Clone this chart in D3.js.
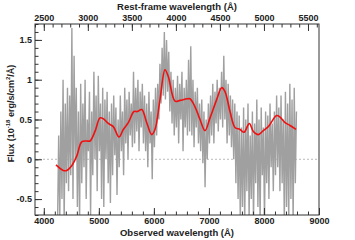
<!DOCTYPE html>
<html>
<head>
<meta charset="utf-8">
<script src="https://cdn.jsdelivr.net/npm/d3@7"></script>
<style>
  body { margin: 0; background: #fff; }
  svg { display: block; }
  text { font-family: "Liberation Sans", Arial, sans-serif; font-weight: bold; fill: #222; }
</style>
</head>
<body>
<div id="chart"></div>
<script>
// axis ticks
const obsTicks = [4000, 5000, 6000, 7000, 8000, 9000];
const obsMinor = [4000, 4200, 4400, 4600, 4800, 5000, 5200, 5400, 5600, 5800, 6000, 6200, 6400, 6600, 6800, 7000, 7200, 7400, 7600, 7800, 8000, 8200, 8400, 8600, 8800, 9000];
const restTicks = [2500, 3000, 3500, 4000, 4500, 5000, 5500];
const fluxTicks = [-0.5, 0, 0.5, 1, 1.5];
const fluxTickLabels = ["-0.5", "0", "0.5", "1", "1.5"];
const redshift = 0.6;

// observed spectrum, sampled every 20 Å from 4250 Å
const specStart = 4250, specStep = 20;
const specFlux = [
  -0.8, 0.3, -0.75, 0.6, -0.5, 1.0, -0.8, 0.7, -0.3, 0.9,
  -0.4, 0.8, -0.2, 1.65, -0.5, 1.3, 0.0, 0.9, -0.6, 0.6,
  -0.8, 0.95, -0.3, 0.7, -0.1, 1.0, -0.5, 0.5, 0.1, 0.85,
  -0.7, 0.6, -0.2, 1.1, 0.0, 0.8, -0.4, 1.05, 0.1, 0.7,
  -0.5, 0.9, -0.6, 0.75, 0.0, 0.85, -0.3, 0.6, -0.55, 0.7,
  -0.2, 0.8, 0.05, 0.65, -0.45, 0.5, -0.1, 0.8, 0.1, 0.6,
  -0.2, 0.9, 0.2, 0.75, 0.0, 0.85, 0.3, 0.7, 0.15, 1.1,
  0.2, 0.9, 0.35, 1.0, 0.1, 0.85, 0.4, 0.95, 0.2, 0.8,
  0.1, 0.7, -0.1, 0.85, 0.2, 0.6, -0.25, 0.75, 0.15, 0.9,
  0.3, 0.95, 0.5, 1.2, 0.7, 1.4, 0.8, 1.6, 0.75, 1.5,
  0.85, 1.35, 0.6, 1.1, 0.45, 1.0, 0.3, 0.9, 0.4, 1.05,
  0.2, 0.95, 0.5, 1.1, 0.1, 0.9, 0.4, 1.0, 0.3, 1.25,
  0.35, 1.42, 0.3, 1.0, 0.15, 0.85, 0.4, 0.9, 0.2, 0.7,
  0.1, 0.75, -0.05, 0.6, -0.35, 0.5, 0.0, 0.7, 0.2, 0.8,
  0.3, 0.95, 0.2, 0.85, 0.45, 1.0, 0.35, 0.9, 0.5, 1.1,
  0.4, 1.3, 0.5, 1.0, 0.2, 0.95, 0.3, 0.8, 0.15, 0.75,
  0.0, 0.7, -0.3, 0.6, -0.5, 0.55, -0.8, 0.4, -0.6, 0.65,
  -0.8, 0.5, -0.4, 0.7, -0.75, 0.3, -0.5, 0.6, -0.8, 0.45,
  -0.3, 0.75, -0.6, 0.5, -0.8, 0.65, -0.2, 0.4, -0.8, 0.6,
  -0.3, 0.55, -0.5, 0.7, -0.1, 0.45, -0.4, 0.6, -0.2, 0.8,
  -0.1, 0.65, -0.4, 0.8, -0.3, 0.5, -0.8, 0.85, -0.6, 0.7,
  -0.8, 0.95, -0.5, 0.75, -0.8, 0.9, -0.3, 0.6
];

// smoothed model
const modelWave = [4222, 4354, 4416, 4507, 4598, 4689, 4780, 4840, 4930, 5021, 5081, 5172, 5263, 5366, 5444, 5535, 5639, 5699, 5779, 5870, 5960, 6020, 6111, 6202, 6262, 6384, 6475, 6607, 6656, 6747, 6838, 6929, 7020, 7141, 7232, 7292, 7383, 7474, 7565, 7638, 7734, 7807, 7897, 7988, 8079, 8231, 8292, 8383, 8473, 8582];
const modelFlux = [-0.07, -0.14, -0.14, -0.08, 0.04, 0.22, 0.23, 0.23, 0.35, 0.52, 0.51, 0.45, 0.41, 0.28, 0.375, 0.46, 0.60, 0.60, 0.625, 0.46, 0.31, 0.375, 0.75, 1.125, 1.04, 0.73, 0.74, 0.76, 0.76, 0.66, 0.5, 0.36, 0.52, 0.75, 0.90, 0.85, 0.60, 0.40, 0.375, 0.34, 0.45, 0.35, 0.31, 0.36, 0.41, 0.55, 0.53, 0.46, 0.425, 0.375];

const width = 355, height = 240;
const margin = { top: 24, right: 36, bottom: 25, left: 35 };
const innerW = width - margin.left - margin.right;
const innerH = height - margin.top - margin.bottom;

const svg = d3.select("#chart").append("svg")
  .attr("width", width).attr("height", height);
const g = svg.append("g")
  .attr("transform", `translate(${margin.left},${margin.top})`);

const x = d3.scaleLinear().domain([3840, 9000]).range([0, innerW]);
const xRest = d3.scaleLinear().domain([3840 / (1 + redshift), 9000 / (1 + redshift)]).range([0, innerW]);
const y = d3.scaleLinear().domain([-0.7, 1.7]).range([innerH, 0]);

g.append("clipPath").attr("id", "plot-clip")
  .append("rect").attr("width", innerW).attr("height", innerH);

// zero line
g.append("line")
  .attr("x1", 0).attr("x2", innerW)
  .attr("y1", y(0)).attr("y2", y(0))
  .attr("stroke", "#aaa").attr("stroke-width", 0.8)
  .attr("stroke-dasharray", "2,2");

const spec = specFlux.map((f, i) => ({ w: specStart + i * specStep, f }));
g.append("path")
  .datum(spec)
  .attr("clip-path", "url(#plot-clip)")
  .attr("fill", "none")
  .attr("stroke", "#a0a0a0")
  .attr("stroke-width", 1.4)
  .attr("stroke-linejoin", "bevel")
  .attr("d", d3.line().x(d => x(d.w)).y(d => y(d.f)));

const model = modelWave.map((w, i) => ({ w, f: modelFlux[i] }));
g.append("path")
  .datum(model)
  .attr("fill", "none")
  .attr("stroke", "#f01010")
  .attr("stroke-width", 1.6)
  .attr("d", d3.line().x(d => x(d.w)).y(d => y(d.f)).curve(d3.curveCatmullRom));

// axes, ticks pointing inside
function style(sel) {
  sel.select(".domain").remove();
  sel.selectAll("line").attr("stroke", "#333");
  sel.selectAll("text").attr("font-size", 9).style("fill", "#222");
}

g.append("g").attr("transform", `translate(0,${innerH})`)
  .call(d3.axisBottom(x).tickValues(obsMinor).tickSize(-3.5).tickFormat(""))
  .call(style);
g.append("g").attr("transform", `translate(0,${innerH})`)
  .call(d3.axisBottom(x).tickValues(obsTicks).tickSize(-7).tickPadding(3).tickFormat(d3.format("d")))
  .call(style);

const restMinor = d3.range(2400, 5700, 100);
g.append("g")
  .call(d3.axisTop(xRest).tickValues(restMinor).tickSize(-3.5).tickFormat(""))
  .call(style);
g.append("g")
  .call(d3.axisTop(xRest).tickValues(restTicks).tickSize(-7).tickPadding(3).tickFormat(d3.format("d")))
  .call(style);

const fluxMinor = d3.range(-7, 18).map(v => v / 10);
g.append("g")
  .call(d3.axisLeft(y).tickValues(fluxMinor).tickSize(-3.5).tickFormat(""))
  .call(style);
g.append("g")
  .call(d3.axisLeft(y).tickValues(fluxTicks).tickSize(-7).tickPadding(3)
    .tickFormat((d, i) => fluxTickLabels[i]))
  .call(style);

// frame
g.append("rect")
  .attr("width", innerW).attr("height", innerH)
  .attr("fill", "none").attr("stroke", "#333").attr("stroke-width", 1);

// titles
svg.append("text")
  .attr("x", margin.left + innerW / 2).attr("y", 236)
  .attr("text-anchor", "middle").attr("font-size", 9.5)
  .text("Observed wavelength (Å)");
svg.append("text")
  .attr("x", margin.left + innerW / 2).attr("y", 9.5)
  .attr("text-anchor", "middle").attr("font-size", 9.5)
  .text("Rest-frame wavelength (Å)");

const yl = svg.append("text")
  .attr("transform", `translate(14,${margin.top + innerH / 2 - 6}) rotate(-90)`)
  .attr("text-anchor", "middle").attr("font-size", 9);
yl.append("tspan").text("Flux (10");
yl.append("tspan").attr("font-size", 6).attr("dy", -4).text("-18");
yl.append("tspan").attr("dy", 4).text(" erg/s/cm");
yl.append("tspan").attr("font-size", 6).attr("dy", -4).text("2");
yl.append("tspan").attr("dy", 4).text("/Å)");
</script>
</body>
</html>
